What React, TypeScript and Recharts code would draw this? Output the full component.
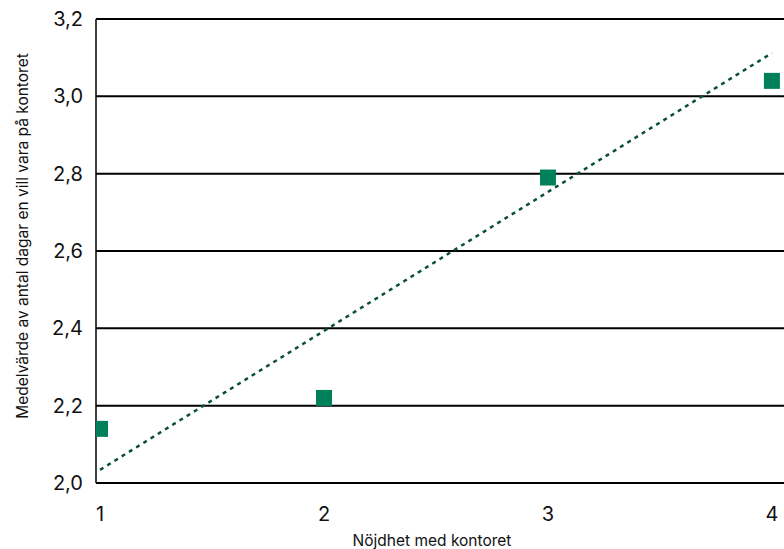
import { CartesianGrid, Scatter, ScatterChart, XAxis, YAxis } from 'recharts';

// nöjdhet med kontoret (1-4) och medelvärde av önskade kontorsdagar
const satisfaction = [1, 2, 3, 4];
const meanDays = [2.14, 2.22, 2.79, 3.04];

// trendlinjens ändpunkter, avlästa i bilden
const trendX = [1, 4];
const trendY = [2.034, 3.112];

const yTicks = [2.0, 2.2, 2.4, 2.6, 2.8, 3.0, 3.2];
const xTicks = [1, 2, 3, 4];

const points = satisfaction.map((x, i) => ({ x, y: meanDays[i] }));
const trend = trendX.map((x, i) => ({ x, y: trendY[i] }));

const fmt = (v: number) => v.toFixed(1).replace('.', ',');

const Square = (props: any) => (
  <rect x={props.cx - 8} y={props.cy - 8} width={16} height={16} fill="#00805b" />
);

export default function App() {
  return (
    <div
      style={{
        position: 'absolute',
        left: 0,
        top: 0,
        width: 784,
        height: 549,
        overflow: 'hidden',
        background: '#fff',
        fontFamily: 'Inter, sans-serif',
      }}
    >
      <ScatterChart width={784} height={549} margin={{ top: 19, right: 0, left: 0, bottom: 16 }}>
        <CartesianGrid vertical={false} stroke="#000" strokeWidth={2} />
        <XAxis
          type="number"
          dataKey="x"
          domain={[0.982, 4.054]}
          ticks={xTicks}
          allowDataOverflow
          axisLine={false}
          tickLine={false}
          tickSize={0}
          tickMargin={24}
          height={50}
          tick={{ fontSize: 20, fill: '#111' }}
          label={{
            value: 'Nöjdhet med kontoret',
            position: 'insideBottom',
            offset: -13,
            dx: -8,
            fontSize: 15.5,
            fill: '#111',
          }}
        />
        <YAxis
          type="number"
          dataKey="y"
          domain={[2, 3.2]}
          ticks={yTicks}
          allowDataOverflow
          width={96}
          axisLine={{ stroke: '#000', strokeWidth: 1.5 }}
          tickLine={false}
          tickSize={0}
          tickMargin={13}
          tickFormatter={fmt}
          tick={{ fontSize: 20, fill: '#111' }}
          label={{
            value: 'Medelvärde av antal dagar en vill vara på kontoret',
            angle: -90,
            position: 'insideLeft',
            offset: 22,
            dy: -15,
            fontSize: 15.5,
            fill: '#111',
            style: { textAnchor: 'middle' },
          }}
        />
        <Scatter data={points} shape={Square} isAnimationActive={false} />
        <Scatter
          data={trend}
          shape={() => <g />}
          line={{ stroke: '#0b4f3b', strokeWidth: 2.5, strokeDasharray: '4 4.5' }}
          lineType="joint"
          isAnimationActive={false}
        />
      </ScatterChart>
    </div>
  );
}
